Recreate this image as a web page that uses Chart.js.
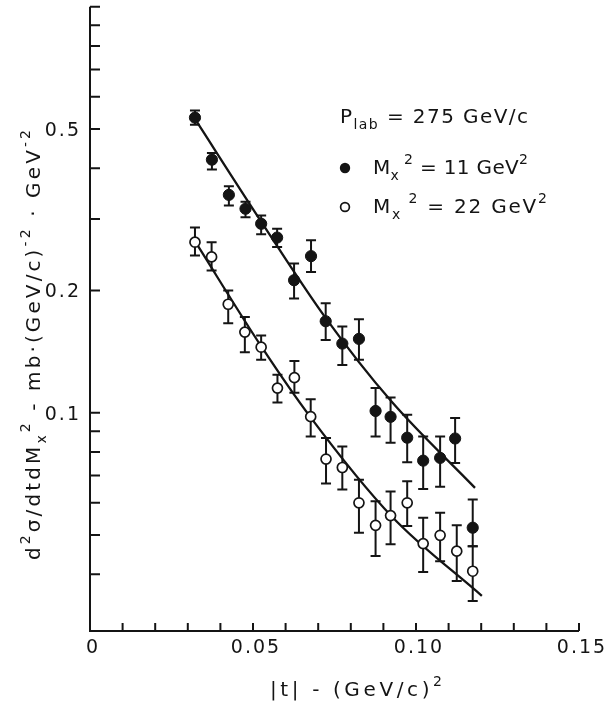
<!DOCTYPE html>
<html><head><meta charset="utf-8">
<script src="https://cdn.jsdelivr.net/npm/chart.js@4.4.1/dist/chart.umd.min.js"></script>
<style>html,body{margin:0;padding:0;background:#fff}canvas{display:block}</style>
</head><body>
<canvas id="c" width="608" height="706"></canvas>
<script>
// ---- data ----
const tFilled  = [0.0322,0.0374,0.0426,0.0477,0.0525,0.0574,0.0626,0.0678,0.0723,0.0774,0.0825,0.0876,0.0922,0.0973,0.1022,0.1074,0.1120,0.1174];
const yFilled  = [0.533,0.420,0.344,0.318,0.292,0.270,0.212,0.243,0.168,0.148,0.152,0.101,0.0977,0.0868,0.0762,0.0774,0.0864,0.0521];
const hiFilled = [0.555,0.436,0.361,0.331,0.306,0.284,0.233,0.266,0.186,0.163,0.170,0.115,0.109,0.0988,0.0874,0.0874,0.097,0.0611];
const loFilled = [0.512,0.397,0.324,0.303,0.275,0.256,0.191,0.222,0.151,0.131,0.135,0.0874,0.0843,0.0755,0.0649,0.0657,0.0752,0.0469];

const tOpen  = [0.0322,0.0373,0.0424,0.0475,0.0525,0.0575,0.0627,0.0677,0.0724,0.0774,0.0825,0.0876,0.0922,0.0973,0.1022,0.1074,0.1125,0.1174];
const yOpen  = [0.263,0.242,0.185,0.158,0.145,0.115,0.122,0.0978,0.0769,0.0733,0.060,0.0528,0.0558,0.060,0.0476,0.0499,0.0456,0.0407];
const hiOpen = [0.286,0.263,0.200,0.172,0.155,0.124,0.134,0.108,0.0866,0.0826,0.0684,0.0605,0.064,0.0678,0.0551,0.0567,0.0528,0.0469];
const loOpen = [0.244,0.224,0.166,0.141,0.135,0.106,0.112,0.0874,0.0669,0.0647,0.0506,0.0444,0.0474,0.0526,0.0405,0.0431,0.0385,0.0344];

const fitT11 = [0.0318,0.0527,0.0721,0.0925,0.1181];
const fitY11 = [0.535,0.294,0.172,0.1065,0.0653];
const fitT22 = [0.0320,0.0527,0.0675,0.0925,0.1202];
const fitY22 = [0.266,0.145,0.0978,0.0556,0.0354];

const xTickValues  = [0.01,0.02,0.03,0.04,0.05,0.06,0.07,0.08,0.09,0.10,0.11,0.12,0.13,0.14,0.15];
const xLabelValues = [0,0.05,0.10,0.15];
const xLabelTexts  = ['0','0.05','0.10','0.15'];
const yTickValues  = [1.0,0.9,0.8,0.7,0.6,0.5,0.4,0.3,0.2,0.1,0.09,0.08,0.07,0.06,0.05,0.04];
const yLabelValues = [0.5,0.2,0.1];
const yLabelTexts  = ['0.5','0.2','0.1'];

const X_MIN = 0, X_MAX = 0.15, Y_MIN = 0.029, Y_MAX = 1.0;
const INK = '#141414';
const FONT = '"DejaVu Sans", sans-serif';

function pts(xs, ys){ return xs.map((x,i)=>({x:x, y:ys[i]})); }

// ---- rich text helpers (sub/superscripts, letter spacing) ----
function segFont(seg, fs){ return ((seg.sub||seg.sup) ? Math.round(fs*0.72) : fs) + 'px ' + FONT; }
function richNatural(ctx, segs, fs){
  let w = 0, n = 0;
  for (const s of segs){ ctx.font = segFont(s, fs); for (const ch of s.t){ w += ctx.measureText(ch).width; n++; } }
  return {w, n};
}
function drawRich(ctx, segs, x, y, fs, opt){
  opt = opt || {};
  const nat = richNatural(ctx, segs, fs);
  let ls = opt.ls || 0;
  if (opt.width) ls = (opt.width - nat.w) / Math.max(1, nat.n - 1);
  const total = nat.w + ls * (nat.n - 1);
  let cx = opt.align === 'center' ? x - total/2 : (opt.align === 'right' ? x - total : x);
  ctx.textBaseline = 'alphabetic';
  ctx.textAlign = 'left';
  ctx.fillStyle = INK;
  for (const s of segs){
    ctx.font = segFont(s, fs);
    const dy = s.sub ? fs*0.32 : (s.sup ? -fs*0.48 : 0);
    for (const ch of s.t){
      ctx.fillText(ch, cx, y + dy);
      cx += ctx.measureText(ch).width + ls;
    }
  }
}

const paper = {
  id: 'paper',
  beforeDraw(chart){
    const ctx = chart.ctx;
    ctx.save(); ctx.fillStyle = '#ffffff'; ctx.fillRect(0,0,chart.width,chart.height); ctx.restore();
  },
  beforeDatasetsDraw(chart){
    const ctx = chart.ctx, xs = chart.scales.x, ys = chart.scales.y;
    ctx.save();
    ctx.strokeStyle = INK; ctx.lineWidth = 2; ctx.lineCap = 'butt';
    const bars = [[tFilled, hiFilled, loFilled],[tOpen, hiOpen, loOpen]];
    for (const [t, hi, lo] of bars){
      for (let i=0;i<t.length;i++){
        const px = xs.getPixelForValue(t[i]);
        const pt = ys.getPixelForValue(hi[i]);
        const pb = ys.getPixelForValue(lo[i]);
        ctx.beginPath();
        ctx.moveTo(px, pt); ctx.lineTo(px, pb);
        ctx.moveTo(px-5, pt); ctx.lineTo(px+5, pt);
        ctx.moveTo(px-5, pb); ctx.lineTo(px+5, pb);
        ctx.stroke();
      }
    }
    ctx.restore();
  },
  afterDraw(chart){
    const ctx = chart.ctx, xs = chart.scales.x, ys = chart.scales.y, a = chart.chartArea;
    ctx.save();
    ctx.strokeStyle = INK; ctx.lineWidth = 2;
    // axes
    ctx.beginPath();
    ctx.moveTo(a.left, ys.getPixelForValue(Y_MAX)); ctx.lineTo(a.left, a.bottom);
    ctx.lineTo(xs.getPixelForValue(X_MAX), a.bottom);
    ctx.stroke();
    // ticks (inward)
    ctx.beginPath();
    for (const v of yTickValues){ const py = ys.getPixelForValue(v); ctx.moveTo(a.left, py); ctx.lineTo(a.left+10, py); }
    for (const v of xTickValues){ const px = xs.getPixelForValue(v); ctx.moveTo(px, a.bottom); ctx.lineTo(px, a.bottom-8); }
    ctx.stroke();
    // tick labels
    xLabelValues.forEach((v,i)=>{
      drawRich(ctx, [{t:xLabelTexts[i]}], xs.getPixelForValue(v)+2, a.bottom+22, 19, {align:'center', ls:2});
    });
    yLabelValues.forEach((v,i)=>{
      drawRich(ctx, [{t:yLabelTexts[i]}], a.left-11, ys.getPixelForValue(v)+7, 19, {align:'right', ls:2});
    });
    // x title
    drawRich(ctx, [{t:'|t| - (GeV/c)'},{t:'2', sup:true}], 356, 696, 20, {align:'center', width:172});
    // y title (rotated)
    ctx.save();
    ctx.translate(40, 345);
    ctx.rotate(-Math.PI/2);
    drawRich(ctx, [{t:'d'},{t:'2',sup:true},{t:'σ/dtdM'},{t:'x',sub:true},{t:'2',sup:true},
                   {t:' - mb·(GeV/c)'},{t:'-2',sup:true},{t:' · GeV'},{t:'-2',sup:true}],
             0, 0, 20, {align:'center', width:430});
    ctx.restore();
    // legend
    drawRich(ctx, [{t:'P'},{t:'lab',sub:true},{t:' = 275 GeV/c'}], 340, 123, 20, {width:188});
    ctx.fillStyle = INK;
    ctx.beginPath(); ctx.arc(345, 168, 5.2, 0, Math.PI*2); ctx.fill();
    drawRich(ctx, [{t:'M'},{t:'x',sub:true},{t:' 2',sup:true},{t:' = 11 GeV'},{t:'2',sup:true}], 373, 174, 20, {width:155});
    ctx.fillStyle = '#fff'; ctx.lineWidth = 1.7;
    ctx.beginPath(); ctx.arc(345, 207, 4.4, 0, Math.PI*2); ctx.fill(); ctx.stroke();
    drawRich(ctx, [{t:'M'},{t:'x',sub:true},{t:' 2',sup:true},{t:' = 22 GeV'},{t:'2',sup:true}], 373, 213, 20, {width:174});
    ctx.restore();
  }
};

new Chart(document.getElementById('c'), {
  type: 'scatter',
  data: {
    datasets: [
      { label: 'Mx2 = 11 GeV2', data: pts(tFilled, yFilled), pointStyle: 'circle', pointRadius: 5.6,
        backgroundColor: INK, borderColor: INK, borderWidth: 1, showLine: false },
      { label: 'Mx2 = 22 GeV2', data: pts(tOpen, yOpen), pointStyle: 'circle', pointRadius: 5,
        backgroundColor: '#ffffff', borderColor: INK, borderWidth: 1.7, showLine: false },
      { type: 'line', label: 'fit 11', data: pts(fitT11, fitY11), borderColor: INK, borderWidth: 2.3,
        pointRadius: 0, fill: false, cubicInterpolationMode: 'monotone' },
      { type: 'line', label: 'fit 22', data: pts(fitT22, fitY22), borderColor: INK, borderWidth: 2.3,
        pointRadius: 0, fill: false, cubicInterpolationMode: 'monotone' }
    ]
  },
  options: {
    responsive: false, animation: false, devicePixelRatio: 1,
    layout: { padding: { left: 90, right: 29, top: 6, bottom: 75 } },
    plugins: { legend: { display: false }, tooltip: { enabled: false } },
    scales: {
      x: { type: 'linear', min: X_MIN, max: X_MAX, display: false },
      y: { type: 'logarithmic', min: Y_MIN, max: Y_MAX, display: false }
    }
  },
  plugins: [paper]
});
</script>
</body></html>
